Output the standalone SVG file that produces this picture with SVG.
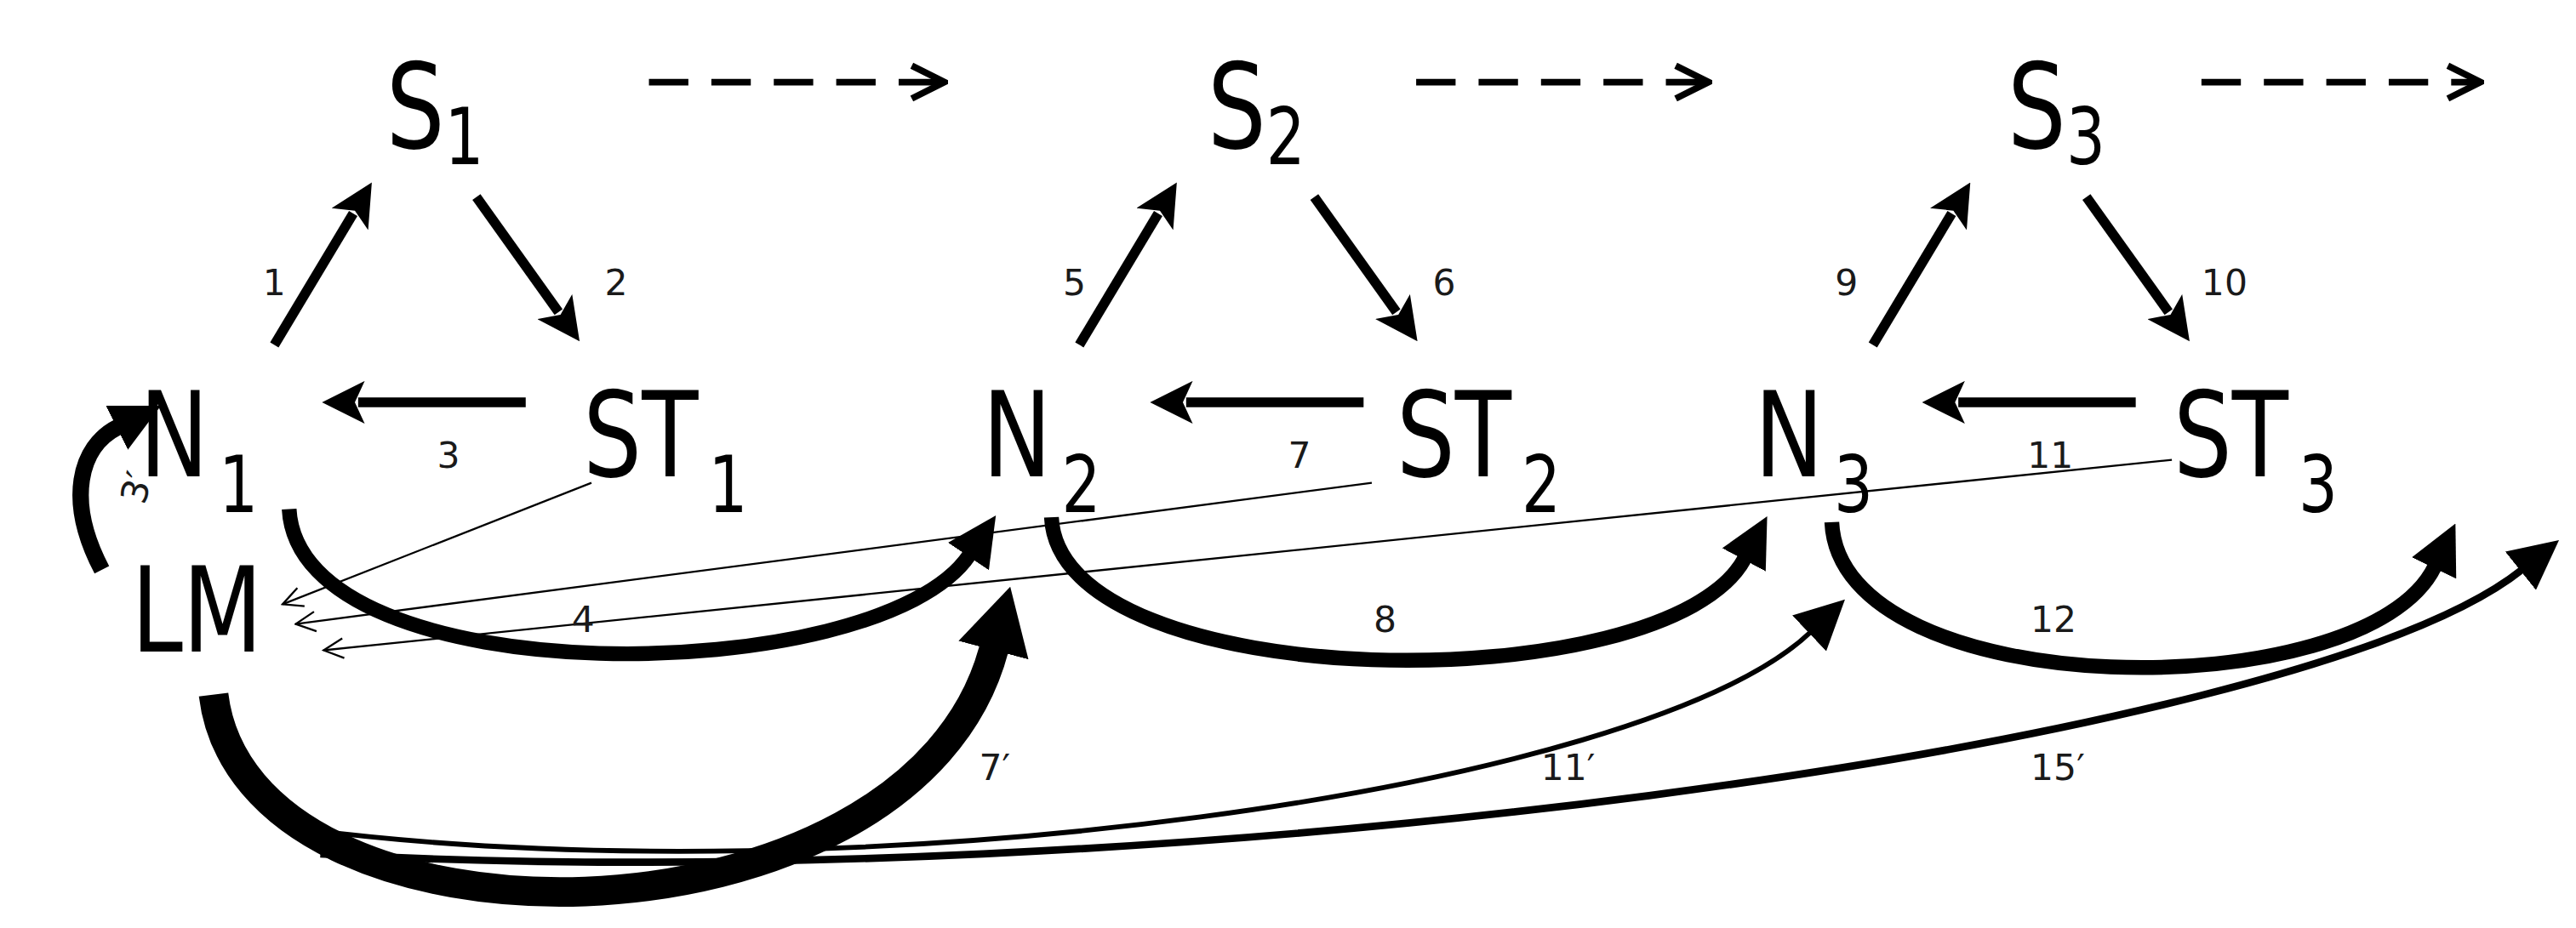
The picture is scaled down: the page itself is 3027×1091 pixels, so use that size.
<svg xmlns="http://www.w3.org/2000/svg" width="3027" height="1091" viewBox="0 0 3027 1091">
<style>
.n{font-family:"DejaVu Sans",sans-serif;font-size:72px;fill:#000}
.sub{font-size:48px}
.l{font-family:"DejaVu Sans",sans-serif;font-size:22px;fill:#1a1a1a}
.s{fill:none;stroke:#000;stroke-width:6;marker-end:url(#h)}
.d{fill:none;stroke:#000;stroke-width:4;stroke-dasharray:24 14;marker-end:url(#o)}
.t{fill:none;stroke:#000;stroke-width:1.2;marker-end:url(#ot)}
.a{fill:none;stroke:#000;marker-end:url(#b)}
</style>
<defs>
<marker id="h" markerUnits="userSpaceOnUse" viewBox="0 0 26 26" refX="4" refY="13" markerWidth="26" markerHeight="26" orient="auto"><path d="M0,0 L26,13 L0,26 L6,13 z"/></marker>
<marker id="o" markerUnits="userSpaceOnUse" viewBox="0 0 24 24" refX="22" refY="12" markerWidth="24" markerHeight="24" orient="auto"><path d="M2,2 L22,12 L2,22" fill="none" stroke="#000" stroke-width="4"/></marker>
<marker id="ot" markerUnits="userSpaceOnUse" viewBox="0 0 14 14" refX="13" refY="7" markerWidth="14" markerHeight="14" orient="auto"><path d="M1,1 L13,7 L1,13" fill="none" stroke="#000" stroke-width="1.2"/></marker>
<marker id="b" markerUnits="userSpaceOnUse" viewBox="0 0 30 30" refX="1" refY="15" markerWidth="30" markerHeight="30" orient="auto"><path d="M0,0 L30,15 L0,30 z"/></marker>
<marker id="bb" markerUnits="userSpaceOnUse" viewBox="0 0 40 44" refX="1" refY="22" markerWidth="40" markerHeight="44" orient="auto"><path d="M0,0 L40,22 L0,44 z"/></marker>
</defs>
<g transform="scale(1.9305)">
<g id="S1" transform="translate(235,90) scale(0.78,1)"><text class="n">S<tspan class="sub" dy="10">1</tspan></text></g>
<g id="S2" transform="translate(735,90) scale(0.78,1)"><text class="n">S<tspan class="sub" dy="10">2</tspan></text></g>
<g id="S3" transform="translate(1222,90) scale(0.78,1)"><text class="n">S<tspan class="sub" dy="10">3</tspan></text></g>
<g id="N1" transform="translate(85,290) scale(0.78,1)"><text class="n">N<tspan class="sub" dx="8" dy="22">1</tspan></text></g>
<g id="N2" transform="translate(598,290) scale(0.78,1)"><text class="n">N<tspan class="sub" dx="8" dy="22">2</tspan></text></g>
<g id="N3" transform="translate(1068,290) scale(0.78,1)"><text class="n">N<tspan class="sub" dx="8" dy="22">3</tspan></text></g>
<g id="ST1" transform="translate(355,290) scale(0.78,1)"><text class="n">ST<tspan class="sub" dx="8" dy="22">1</tspan></text></g>
<g id="ST2" transform="translate(850,290) scale(0.78,1)"><text class="n">ST<tspan class="sub" dx="8" dy="22">2</tspan></text></g>
<g id="ST3" transform="translate(1323,290) scale(0.78,1)"><text class="n">ST<tspan class="sub" dx="8" dy="22">3</tspan></text></g>
<g id="LM" transform="translate(80,397) scale(0.78,1)"><text class="n">LM</text></g>
<g id="connectors">
<path class="d" d="M395,50 L575,50"/>
<path class="d" d="M862,50 L1040,50"/>
<path class="d" d="M1340,50 L1510,50"/>
<path class="s" d="M167,210 L215,130"/>
<path class="s" d="M290,120 L340,190"/>
<path class="s" d="M320,245 L218,245"/>
<path class="s" d="M657,210 L705,130"/>
<path class="s" d="M800,120 L850,190"/>
<path class="s" d="M830,245 L722,245"/>
<path class="s" d="M1140,210 L1188,130"/>
<path class="s" d="M1270,120 L1320,190"/>
<path class="s" d="M1300,245 L1192,245"/>
<path class="t" d="M360,294 L172,368"/>
<path class="t" d="M835,294 L180,380"/>
<path class="t" d="M1322,280 L197,396"/>
<path class="a" stroke-width="10" d="M62,347 C40,305 48,272 72,260"/>
<path class="a" stroke-width="9" d="M176,310 C182,425 535,420 590,338"/>
<path class="a" stroke-width="9" d="M640,315 C645,425 1015,428 1062,340"/>
<path class="a" stroke-width="9" d="M1115,318 C1120,430 1440,432 1482,345"/>
<path class="a" stroke-width="3" d="M185,505 C520,548 1000,482 1102,385"/>
<path class="a" stroke-width="4.5" d="M195,520 C700,548 1400,455 1535,347"/>
<path fill="none" stroke="#000" stroke-width="18" marker-end="url(#bb)" d="M130,423 C150,590 555,585 605,395"/>
</g>
<g id="labels">
<text class="l" x="160" y="180">1</text>
<text class="l" x="368" y="180">2</text>
<text class="l" x="266" y="285">3</text>
<text class="l" x="0" y="0" transform="translate(88,308) rotate(-75)">3′</text>
<text class="l" x="348" y="385">4</text>
<text class="l" x="647" y="180">5</text>
<text class="l" x="872" y="180">6</text>
<text class="l" x="784" y="285">7</text>
<text class="l" x="836" y="385">8</text>
<text class="l" x="1117" y="180">9</text>
<text class="l" x="1340" y="180">10</text>
<text class="l" x="1234" y="285">11</text>
<text class="l" x="1236" y="385">12</text>
<text class="l" x="596" y="475">7′</text>
<text class="l" x="938" y="475">11′</text>
<text class="l" x="1236" y="475">15′</text>
</g>
</g>
</svg>
